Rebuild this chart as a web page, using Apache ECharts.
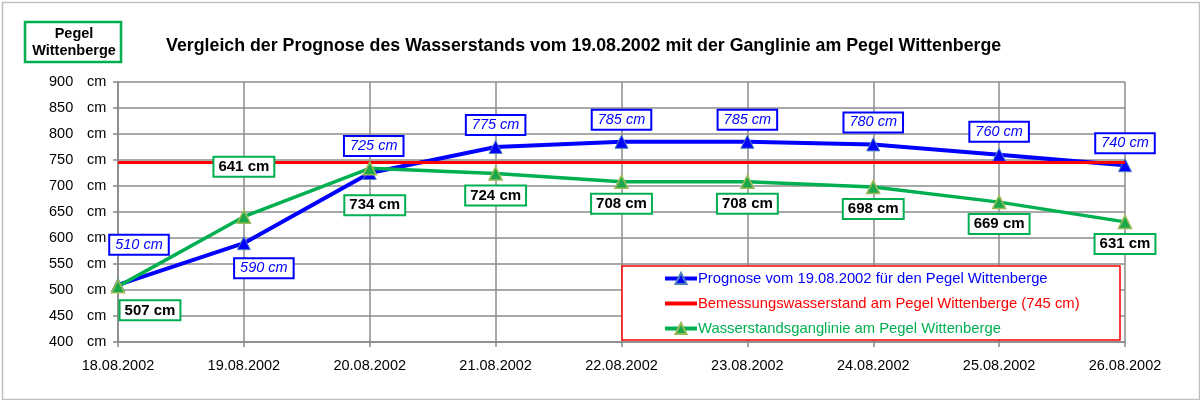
<!DOCTYPE html>
<html><head><meta charset="utf-8">
<script src="https://cdn.jsdelivr.net/npm/echarts@6/dist/echarts.min.js"></script>
<style>html,body{margin:0;padding:0;background:#fff}#c{width:1200px;height:400px}</style>
</head><body><div id="c"></div>
<script>
const categories = ['18.08.2002','19.08.2002','20.08.2002','21.08.2002','22.08.2002','23.08.2002','24.08.2002','25.08.2002','26.08.2002'];
const prognose = [510, 590, 725, 775, 785, 785, 780, 760, 740];
const bemessung = [745, 745, 745, 745, 745, 745, 745, 745, 745];
const ganglinie = [507, 641, 734, 724, 708, 708, 698, 669, 631];
const yTicks = [400, 450, 500, 550, 600, 650, 700, 750, 800, 850, 900];
const seriesNames = ['Prognose vom 19.08.2002 für den Pegel Wittenberge','Bemessungswasserstand am Pegel Wittenberge (745 cm)','Wasserstandsganglinie am Pegel Wittenberge'];

// label offsets (style only)
const progOffsets = [[21,-40],[20,25],[4,-27],[0,-22],[0,-22],[0,-22],[0,-22],[0,-23],[0,-22]];
const gangOffsets = [[32,24],[0,-50],[5,37],[0,22],[0,22],[0,22],[0,22],[0,22],[0,22]];

const FONT = 'Arial, "Liberation Sans", sans-serif';
const BLUE = '#0000FF', RED = '#FF0000', GREEN = '#00B050';

function mk(values, offsets, lab) {
  return values.map((v, i) => ({value: v, label: Object.assign({offset: offsets[i]}, lab)}));
}
const blueLab = {show:true, position:'inside', formatter:p=>p.value+' cm', color:BLUE, fontStyle:'italic', fontSize:14.5, fontFamily:FONT,
  backgroundColor:'#fff', borderColor:BLUE, borderWidth:2, padding:[2,5,1,5]};
const greenLab = {show:true, position:'inside', formatter:p=>p.value+' cm', color:'#000', fontWeight:'bold', fontSize:15, fontFamily:FONT,
  backgroundColor:'#fff', borderColor:GREEN, borderWidth:2, padding:[2,4,1,4]};

const chart = echarts.init(document.getElementById('c'), null, {renderer:'canvas'});
chart.setOption({
  animation:false,
  backgroundColor:'#fff',
  textStyle:{fontFamily:FONT},
  title:{text:'Vergleich der Prognose des Wasserstands vom 19.08.2002 mit der Ganglinie am Pegel Wittenberge',
    left:166, top:37, padding:0,
    textStyle:{fontSize:17.8, fontWeight:'bold', color:'#000', fontFamily:FONT}},
  grid:{left:118, right:75, top:82, bottom:58, containLabel:false},
  xAxis:{type:'category', data:categories, boundaryGap:false,
    axisLine:{lineStyle:{color:'#888', width:1.5}},
    axisTick:{show:true, length:5, lineStyle:{color:'#888', width:1.5}},
    axisLabel:{color:'#000', fontSize:14.5, fontFamily:FONT, margin:16},
    splitLine:{show:true, lineStyle:{color:'#8c8c8c', width:1.5}}},
  yAxis:{type:'value', min:yTicks[0], max:yTicks[yTicks.length-1], interval:50,
    axisLine:{show:true, lineStyle:{color:'#888', width:1.5}},
    axisTick:{show:true, length:5, lineStyle:{color:'#888', width:1.5}},
    axisLabel:{color:'#000', fontSize:14.5, fontFamily:FONT, margin:14, formatter:v=>'{v|'+v+'}{u|cm}',
      rich:{v:{width:38, align:'left', fontSize:14.5, fontFamily:FONT, color:'#000'}, u:{width:17, align:'left', fontSize:14.5, fontFamily:FONT, color:'#000'}}},
    splitLine:{show:true, lineStyle:{color:'#8c8c8c', width:1.5}}},
  legend:{orient:'vertical', left:663, top:271, itemGap:10, itemWidth:32, itemHeight:14, padding:0, z:10,
    lineStyle:{width:4},
    data:[
      {name:seriesNames[0], textStyle:{color:BLUE}},
      {name:seriesNames[1], textStyle:{color:RED}, itemStyle:{opacity:0}},
      {name:seriesNames[2], textStyle:{color:GREEN}}],
    textStyle:{fontSize:14.8, fontFamily:FONT, padding:[0,0,0,-4]}},
  graphic:[
    {type:'rect', left:0, top:0, shape:{x:0.5,y:0.5,width:1197,height:397}, style:{fill:null, stroke:'#c0c0c0', lineWidth:1.5}, z:0, silent:true},
    {type:'rect', shape:{x:622,y:266,width:498,height:74}, style:{fill:'#fff', stroke:RED, lineWidth:1.5}, z:5, silent:true},
    {type:'rect', shape:{x:25,y:22,width:96,height:40}, style:{fill:'#fff', stroke:GREEN, lineWidth:2.5}, z:5, silent:true},
    {type:'text', x:74, y:42, style:{text:'Pegel\nWittenberge', fill:'#000', font:'bold 14.5px '+FONT, align:'center', verticalAlign:'middle', lineHeight:17}, z:6, silent:true}
  ],
  series:[
    {name:seriesNames[0], type:'line', data:mk(prognose, progOffsets, blueLab), z:3,
      lineStyle:{color:BLUE, width:4}, itemStyle:{color:BLUE, borderColor:'#4f81bd', borderWidth:1},
      symbol:'triangle', symbolSize:13, showAllSymbol:true},
    {name:seriesNames[1], type:'line', data:bemessung, z:4, symbol:'none',
      lineStyle:{color:RED, width:3}, itemStyle:{color:RED}},
    {name:seriesNames[2], type:'line', data:mk(ganglinie, gangOffsets, greenLab), z:5,
      lineStyle:{color:GREEN, width:3.5}, itemStyle:{color:'#1aa84a', borderColor:'#9bbb59', borderWidth:1.5},
      symbol:'triangle', symbolSize:13, showAllSymbol:true}
  ]
});
</script></body></html>
